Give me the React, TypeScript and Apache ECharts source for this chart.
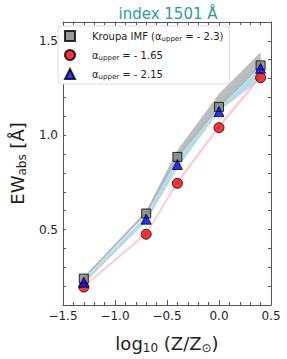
import React, { useEffect, useRef } from "react";
import * as echarts from "echarts";

const xs = [-1.3, -0.7, -0.4, 0.0, 0.4];
const kroupa = [0.24, 0.585, 0.885, 1.15, 1.37];
const alpha165 = [0.195, 0.475, 0.745, 1.04, 1.305];
const alpha215 = [0.22, 0.555, 0.845, 1.125, 1.355];
const grayUpper = [0.25, 0.6, 0.92, 1.22, 1.44];
const blueLower = [0.215, 0.545, 0.83, 1.13, 1.3];
const blueUpper = [0.235, 0.575, 0.89, 1.19, 1.41];
const pinkUpper = [0.205, 0.485, 0.76, 1.055, 1.325];
const xTicks = [-1.5, -1.0, -0.5, 0.0, 0.5];
const yTicks = [0.5, 1.0, 1.5];

const pts = (ys: number[]) => xs.map((x, i) => [x, ys[i]]);

const FONT = "DejaVu Sans";

function band(name: string, lower: number[], upper: number[], color: string, lineColor: string, z: number) {
  return [
    {
      name: name + "_band",
      type: "custom",
      data: [0],
      z,
      silent: true,
      renderItem: (params: any, api: any) => {
        const top = xs.map((x, i) => api.coord([x, upper[i]]));
        const bot = xs.map((x, i) => api.coord([x, lower[i]])).reverse();
        return {
          type: "polygon",
          shape: { points: top.concat(bot) },
          style: { fill: color, stroke: "none" },
        };
      },
    },
    {
      name: name + "_line",
      type: "line",
      data: pts(lower),
      symbol: "none",
      lineStyle: { color: lineColor, width: 1 },
      z,
      silent: true,
    },
  ];
}

export default function App() {
  const ref = useRef<HTMLDivElement>(null);
  useEffect(() => {
    const chart = echarts.init(ref.current!, null, { renderer: "svg" });
    const labelMap: Record<string, string> = {
      kroupa: "{t|Kroupa IMF (α}{s|upper}{t| = - 2.3)}",
      a165: "{t|α}{s|upper}{t| = - 1.65}",
      a215: "{t|α}{s|upper}{t| = - 2.15}",
    };
    const axisLine = { show: true, onZero: false, lineStyle: { color: "#555", width: 1 } };
    chart.setOption({
      animation: false,
      title: {
        text: "index 1501 Å",
        left: 163,
        textAlign: "center",
        top: 1,
        textStyle: { color: "#2a9d9d", fontSize: 15, fontWeight: "normal", fontFamily: FONT },
      },
      grid: { left: 53, right: 16, top: 22, bottom: 43 },
      legend: {
        data: ["kroupa", "a165", "a215"],
        orient: "vertical",
        left: 58,
        top: 26,
        padding: [4, 6, 4, 6],
        itemGap: 7,
        itemWidth: 10,
        itemHeight: 10,
        borderColor: "#ddd",
        borderWidth: 1,
        borderRadius: 3,
        backgroundColor: "#fff",
        formatter: (n: string) => labelMap[n],
        textStyle: {
          fontFamily: FONT,
          padding: [0, 0, 0, 12],
          rich: {
            t: { fontSize: 10, fontFamily: FONT, color: "#222" },
            s: { fontSize: 7, fontFamily: FONT, color: "#222", padding: [5, 0, 0, 0] },
          },
        },
      },
      xAxis: [
        {
          type: "value",
          min: -1.5,
          max: 0.5,
          interval: 0.5,
          name: "log{s|10} (Z/Z{s|⊙})",
          nameLocation: "middle",
          nameGap: 27,
          nameTextStyle: {
            fontSize: 18,
            fontFamily: FONT,
            color: "#222",
            rich: {
              s: { fontSize: 12, fontFamily: FONT, color: "#222", padding: [10, 0, 0, 0] },
            },
          },
          axisLine,
          axisTick: { show: true, inside: true, length: 5, lineStyle: { color: "#555" } },
          minorTick: { show: true, splitNumber: 5, length: 3, lineStyle: { color: "#555" } },
          splitLine: { show: false },
          axisLabel: {
            fontSize: 12,
            fontFamily: FONT,
            color: "#222",
            margin: 5,
            formatter: (v: number) => (xTicks.includes(v) ? v.toFixed(1).replace("-", "−") : ""),
          },
        },
        {
          type: "value",
          position: "top",
          min: -1.5,
          max: 0.5,
          interval: 0.5,
          axisLine,
          axisTick: { show: true, inside: true, length: 5, lineStyle: { color: "#555" } },
          minorTick: { show: true, splitNumber: 5, length: 3, lineStyle: { color: "#555" } },
          splitLine: { show: false },
          axisLabel: { show: false },
        },
      ],
      yAxis: [
        {
          type: "value",
          min: 0.1,
          max: 1.6,
          interval: 0.1,
          name: "EW{s|abs} [Å]",
          nameLocation: "middle",
          nameGap: 30,
          nameTextStyle: {
            fontSize: 18,
            fontFamily: FONT,
            color: "#222",
            rich: {
              s: { fontSize: 12, fontFamily: FONT, color: "#222", padding: [10, 0, 0, 0] },
            },
          },
          axisLine,
          axisTick: { show: true, inside: true, length: 3, lineStyle: { color: "#555" } },
          splitLine: { show: false },
          axisLabel: {
            fontSize: 12,
            fontFamily: FONT,
            color: "#222",
            margin: 5,
            formatter: (v: number) => {
              const r = Math.round(v * 10) / 10;
              return yTicks.includes(r) ? r.toFixed(1) : "";
            },
          },
        },
        {
          type: "value",
          position: "right",
          min: 0.1,
          max: 1.6,
          interval: 0.1,
          axisLine,
          axisTick: { show: true, inside: true, length: 3, lineStyle: { color: "#555" } },
          splitLine: { show: false },
          axisLabel: { show: false },
        },
      ],
      series: [
        ...band("pink", alpha165, pinkUpper, "rgba(255,192,203,0.8)", "#ffc0cb", 1),
        ...band("blue", blueLower, blueUpper, "rgba(173,216,230,0.9)", "#add8e6", 2),
        ...band("gray", kroupa, grayUpper, "rgba(185,185,185,0.95)", "#aaaaaa", 3),
        {
          name: "kroupa",
          type: "scatter",
          data: pts(kroupa),
          symbol: "rect",
          symbolSize: 9,
          itemStyle: { color: "#808080", borderColor: "#000", borderWidth: 1 },
          z: 10,
        },
        {
          name: "a165",
          type: "scatter",
          data: pts(alpha165),
          symbol: "circle",
          symbolSize: 10,
          itemStyle: { color: "#ff0000", borderColor: "#000", borderWidth: 1 },
          z: 10,
        },
        {
          name: "a215",
          type: "scatter",
          data: pts(alpha215),
          symbol: "triangle",
          symbolSize: 10,
          itemStyle: { color: "#0000ff", borderColor: "#000", borderWidth: 1 },
          z: 11,
        },
      ],
    });
    return () => chart.dispose();
  }, []);
  return <div ref={ref} style={{ position: "absolute", left: 0, top: 0, width: 287, height: 359 }} />;
}
